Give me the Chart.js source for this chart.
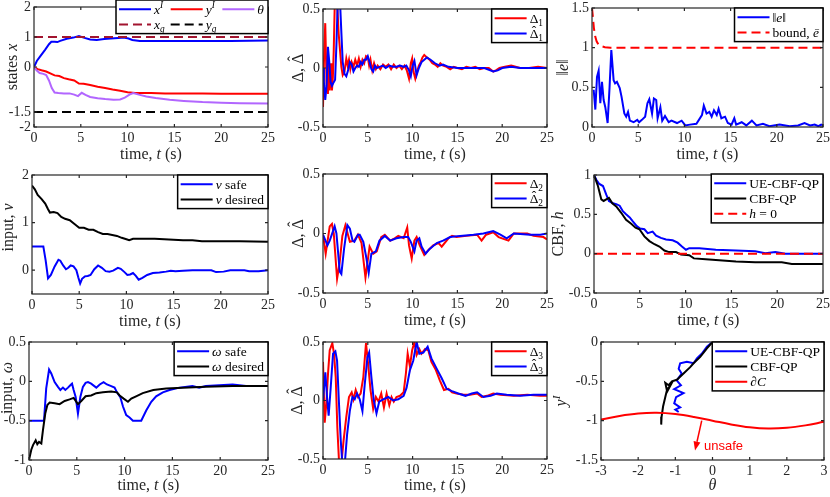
<!DOCTYPE html>
<html>
<head>
<meta charset="utf-8">
<script src="https://cdn.jsdelivr.net/npm/chart.js@4.4.1/dist/chart.umd.min.js"></script>
<style>
html, body { margin: 0; padding: 0; background: #fff; }
#wrap { position: relative; width: 830px; height: 497px; overflow: hidden; background: #fff; }
#wrap canvas { position: absolute; }
</style>
</head>
<body>
<div id="wrap"></div>
<script>
// ---- data ----
const timeTicks = [0, 5, 10, 15, 20, 25];
const thetaTicks = [-3, -2, -1, 0, 1, 2, 3];
const ticksStates = [-2, -1.5, 0, 1, 2];
const ticksDelta = [-0.5, 0, 0.5];
const ticksErr = [0, 0.5, 1, 1.5];
const ticksV = [0, 1, 2];
const ticksH = [-0.5, 0, 0.5, 1];
const ticksW = [-1, -0.5, 0, 0.5];
const ticksYI = [-1.5, -1, -0.5, 0];

// states
const tXI = [0, 0.3, 0.7, 1.2, 1.6, 1.85, 2.2, 2.5, 2.8, 3.5, 4.2, 4.8, 5.3, 6.0, 6.7, 7.5, 8.2, 9.0, 9.6, 10.1, 10.5, 11.3, 12.5, 15, 18, 21, 25];
const xI = [0, 0.2, 0.37, 0.58, 0.76, 0.84, 0.84, 0.83, 0.87, 0.94, 0.98, 1.03, 0.98, 0.92, 0.9, 0.93, 0.95, 0.97, 0.98, 0.95, 0.9, 0.87, 0.87, 0.87, 0.87, 0.87, 0.88];
const tYI = [0, 0.4, 0.8, 1.3, 1.8, 2.2, 2.7, 3.2, 3.7, 4.3, 4.8, 5.3, 6.0, 6.8, 7.6, 8.4, 9.2, 10.0, 10.8, 11.6, 12.5, 14, 16, 18, 20, 22, 25];
const yI = [0, -0.07, -0.11, -0.15, -0.22, -0.28, -0.3, -0.37, -0.41, -0.45, -0.55, -0.56, -0.6, -0.66, -0.7, -0.75, -0.79, -0.84, -0.87, -0.87, -0.87, -0.88, -0.88, -0.88, -0.89, -0.89, -0.89];
const tTh = [0, 0.3, 0.6, 1.0, 1.3, 1.6, 1.9, 2.2, 2.6, 3.2, 3.8, 4.3, 4.7, 5.1, 5.5, 6.0, 6.8, 7.6, 8.5, 9.2, 9.7, 10.2, 10.6, 11.2, 12, 13, 14.5, 16, 18, 20, 22, 25];
const theta = [0, -0.12, -0.2, -0.23, -0.27, -0.45, -0.7, -0.85, -0.87, -0.88, -0.88, -0.92, -0.97, -0.86, -0.93, -1.0, -1.04, -1.07, -1.09, -1.08, -1.02, -0.92, -0.87, -0.92, -0.98, -1.03, -1.09, -1.13, -1.17, -1.19, -1.21, -1.22];
const tGoal = [0, 25];
const xGoal = [1, 1];
const yGoal = [-1.5, -1.5];

// Delta 1
const tD1 = [0, 0.12, 0.25, 0.4, 0.55, 0.65, 0.75, 0.9, 1.0, 1.1, 1.2, 1.3, 1.45, 1.6, 1.75, 1.9, 2.05, 2.2, 2.4, 2.6, 2.75, 2.9, 3.05, 3.2, 3.4, 3.6, 3.8, 4.0, 4.2, 4.4, 4.6, 4.8, 5.0, 5.15, 5.3, 5.5, 5.7, 5.9, 6.1, 6.4, 6.7, 7.0, 7.3, 7.6, 7.9, 8.2, 8.5, 8.8, 9.1, 9.35, 9.6, 9.8, 9.95, 10.1, 10.3, 10.5, 10.7, 10.9, 11.1, 11.3, 11.6, 11.9, 12.2, 12.5, 12.8, 13.1, 13.4, 13.8, 14.2, 14.6, 15, 15.5, 16, 16.5, 17, 17.5, 18, 18.5, 19, 19.3, 19.7, 20.3, 21, 21.5, 22, 23, 24, 25];
const d1 = [-0.33, 0.1, 0.38, -0.13, -0.22, 0.07, -0.19, 0.04, -0.19, -0.08, 0.15, 0.5, 0.58, 0.52, 0.29, 0.15, 0.01, -0.06, -0.03, 0.08, 0.02, 0.07, -0.01, 0.05, 0.01, 0.07, 0.02, 0.08, 0.01, 0.07, 0.04, 0.1, 0.09, 0.02, 0.07, -0.02, 0.04, -0.01, 0.02, -0.01, 0.03, 0.01, 0.03, -0.01, 0.03, 0, 0.02, -0.01, 0.02, -0.02, -0.09, 0.04, 0.08, -0.03, -0.09, -0.03, 0.02, 0.05, 0.09, 0.11, 0.09, 0.07, 0.04, 0.03, 0.01, 0.04, 0.02, 0.01, -0.01, 0.01, 0, -0.01, 0.01, 0, 0.01, -0.01, 0, 0, -0.03, -0.02, 0, 0.01, 0.02, 0.01, 0, 0, 0.01, 0];
const tD1h = [0, 0.1, 0.25, 0.4, 0.55, 0.7, 0.85, 1.0, 1.2, 1.35, 1.5, 1.62, 1.75, 1.9, 2.05, 2.2, 2.4, 2.6, 2.8, 3.0, 3.2, 3.4, 3.6, 3.8, 4.0, 4.2, 4.4, 4.6, 4.8, 5.0, 5.2, 5.4, 5.6, 5.8, 6.0, 6.3, 6.7, 7.0, 7.4, 7.8, 8.2, 8.6, 9.0, 9.3, 9.6, 9.8, 10.0, 10.2, 10.45, 10.7, 11.0, 11.3, 11.6, 12.0, 12.5, 13, 13.4, 14, 15, 16, 17, 18, 19, 19.5, 20, 21, 22, 25];
const d1h = [0, -0.12, -0.27, -0.15, 0.18, 0.05, -0.12, -0.15, -0.12, -0.1, 0.2, 0.5, 0.6, 0.56, 0.3, 0.05, -0.05, -0.07, -0.02, 0.05, 0.03, -0.03, 0.0, 0.02, 0.01, 0.05, 0.03, 0.07, 0.07, 0.1, 0.05, -0.01, -0.03, 0.02, 0, 0.01, 0.02, 0, 0.02, 0.01, 0.01, 0.02, 0.01, 0.02, -0.02, -0.07, 0.02, 0.06, -0.06, 0, 0.05, 0.07, 0.09, 0.07, 0.04, 0.02, 0.03, 0.01, 0, 0, 0, 0, -0.03, -0.02, 0, 0.01, 0, 0];

// error norm and bound
const tErr = [0.18, 0.36, 0.54, 0.72, 0.9, 1.08, 1.26, 1.44, 1.69, 1.9, 2.09, 2.34, 2.5, 2.7, 3.0, 3.2, 3.5, 3.7, 3.9, 4.1, 4.5, 4.9, 5.1, 5.4, 5.75, 6.0, 6.2, 6.5, 6.7, 6.95, 7.1, 7.4, 7.6, 7.9, 8.3, 8.6, 9.2, 9.7, 10.1, 10.6, 11.3, 11.9, 12.1, 12.4, 12.7, 12.95, 13.2, 13.5, 13.7, 14.0, 14.4, 14.7, 15.1, 15.4, 15.6, 16.2, 16.7, 17.3, 17.8, 18.5, 19.2, 20.3, 21.4, 22.3, 23.0, 23.6, 24.1, 24.5, 24.8, 25];
const errNorm = [0.47, 0.22, 0.63, 0.71, 0.3, 0.57, 0.34, 0.25, 0.05, 0.5, 0.97, 0.59, 0.55, 0.57, 0.49, 0.38, 0.17, 0.13, 0.19, 0.08, 0.06, 0.09, 0.06, 0.09, 0.13, 0.3, 0.35, 0.17, 0.36, 0.34, 0.11, 0.25, 0.08, 0.14, 0.06, 0.08, 0.05, 0.08, 0.02, 0.03, 0.04, 0.15, 0.27, 0.17, 0.19, 0.13, 0.21, 0.15, 0.23, 0.11, 0.13, 0.05, 0.03, 0.11, 0.03, 0.06, 0.02, 0.08, 0.02, 0.04, 0.01, 0.03, 0.01, 0.02, 0.05, 0.02, 0.03, 0.01, 0.03, 0.02];
const tBound = [0, 0.1, 0.2, 0.35, 0.5, 0.7, 1.0, 1.4, 2, 25];
const bound = [1.5, 1.38, 1.25, 1.14, 1.08, 1.04, 1.02, 1.005, 1.0, 1.0];

// input v
const tVs = [0, 1.2, 1.45, 1.7, 2.0, 2.4, 2.8, 3.0, 3.3, 3.6, 3.85, 4.1, 4.4, 4.7, 4.9, 5.1, 5.3, 5.6, 5.9, 6.2, 6.6, 7.0, 7.4, 7.8, 8.2, 8.6, 9.1, 9.4, 9.8, 10.1, 10.4, 10.7, 11.0, 11.3, 11.7, 12.2, 12.8, 13.5, 14.2, 14.7, 15.2, 16, 17, 18, 19, 19.5, 20.3, 21, 22.5, 23, 24, 24.5, 25];
const vSafe = [0.5, 0.5, 0.2, -0.17, -0.1, 0.08, 0.22, 0.2, 0.1, 0.02, 0.05, 0.1, 0.08, 0.0, -0.15, -0.28, -0.18, -0.13, -0.12, -0.1, 0.02, 0.1, 0.05, -0.02, -0.03, -0.01, 0.05, 0.03, -0.04, -0.1, -0.09, -0.06, -0.12, -0.2, -0.16, -0.1, -0.06, -0.05, -0.03, -0.01, -0.02, -0.01, 0, 0, 0, -0.04, -0.03, 0, 0, -0.02, -0.02, -0.01, 0];
const tVd = [0, 0.3, 0.6, 1, 1.4, 1.7, 1.9, 2.3, 2.7, 3.1, 3.5, 4.0, 4.5, 5, 5.5, 6, 6.5, 7, 7.5, 8, 8.5, 9, 9.5, 10, 10.3, 10.7, 11.5, 13, 14, 15, 16, 17, 18, 20, 22, 25];
const vDes = [1.78, 1.7, 1.58, 1.5, 1.4, 1.28, 1.21, 1.22, 1.2, 1.12, 1.08, 1.05, 0.97, 0.89, 0.89, 0.85, 0.85, 0.8, 0.76, 0.76, 0.74, 0.72, 0.68, 0.65, 0.63, 0.66, 0.66, 0.66, 0.65, 0.64, 0.63, 0.63, 0.61, 0.61, 0.61, 0.6];

// Delta 2
const tD2 = [0, 0.3, 0.75, 1.0, 1.2, 1.57, 1.85, 2.16, 2.5, 3.0, 3.5, 3.9, 4.3, 4.74, 5.2, 5.6, 6.0, 6.5, 6.9, 7.5, 8.0, 8.4, 9.0, 9.4, 9.6, 9.9, 10.2, 10.45, 10.8, 11.3, 11.75, 12.3, 12.9, 13.25, 14, 14.4, 14.9, 16, 17.2, 17.7, 18.2, 19, 19.6, 20.7, 21.3, 22.8, 23.5, 24.6, 25];
const d2 = [-0.01, -0.17, 0.06, 0.08, 0.0, -0.38, -0.25, -0.02, 0.07, -0.07, -0.06, -0.01, -0.08, -0.37, -0.11, -0.17, -0.15, -0.03, -0.01, -0.06, -0.04, -0.02, -0.04, 0.05, -0.1, -0.21, -0.06, -0.03, -0.1, -0.18, -0.14, -0.1, -0.08, -0.11, -0.04, -0.02, -0.03, -0.02, -0.01, -0.06, -0.01, 0.01, -0.03, -0.06, 0, 0, -0.02, -0.03, -0.05];
const tD2h = [0, 0.5, 0.75, 1.3, 1.5, 1.87, 2.05, 2.35, 2.72, 3.0, 3.3, 3.5, 3.9, 4.1, 4.5, 4.85, 5.1, 5.4, 5.9, 6.3, 6.9, 7.5, 8.2, 9.0, 9.5, 9.8, 10.2, 10.45, 10.75, 11.0, 11.45, 11.9, 12.7, 13.4, 14.2, 15.3, 16.8, 17.9, 19, 19.8, 20.5, 21.3, 23.1, 24.25, 25];
const d2h = [-0.01, -0.1, -0.06, 0.06, 0.0, -0.32, -0.34, -0.13, 0.07, 0.04, -0.06, -0.07, -0.01, -0.01, -0.07, -0.21, -0.33, -0.17, -0.15, -0.06, -0.02, -0.06, -0.04, -0.03, -0.03, -0.07, -0.15, -0.06, -0.04, -0.11, -0.17, -0.13, -0.08, -0.06, -0.03, -0.02, -0.01, 0, 0.02, -0.01, -0.04, 0, -0.01, -0.01, 0];

// CBF h
const tHue = [0, 0.25, 0.54, 0.98, 1.34, 1.63, 2.07, 2.43, 2.8, 3.15, 3.5, 3.9, 4.24, 4.67, 5.04, 5.5, 5.87, 6.4, 6.78, 7.3, 7.86, 8.59, 9.13, 9.6, 10.04, 10.4, 11.5, 13.3, 15.5, 17.6, 18.7, 19.8, 20.9, 25];
const hUe = [1.0, 0.94, 0.89, 0.86, 0.75, 0.67, 0.64, 0.63, 0.61, 0.54, 0.5, 0.46, 0.41, 0.35, 0.32, 0.31, 0.26, 0.28, 0.23, 0.2, 0.18, 0.17, 0.14, 0.09, 0.05, 0.07, 0.07, 0.05, 0.04, 0.03, 0.005, 0.02, 0, 0];
const tHcbf = [0, 0.43, 0.8, 1.05, 1.34, 1.63, 2.0, 2.43, 2.97, 3.5, 4.06, 4.53, 4.96, 5.5, 6.05, 6.6, 7.14, 7.68, 8.2, 8.95, 9.5, 10.4, 10.9, 12.2, 13.3, 15.5, 17.6, 20.5, 21.6, 25];
const hCbf = [1.0, 0.86, 0.69, 0.67, 0.69, 0.71, 0.64, 0.6, 0.52, 0.43, 0.38, 0.33, 0.31, 0.22, 0.16, 0.12, 0.09, 0.04, 0.02, 0.02, -0.01, -0.02, -0.06, -0.07, -0.08, -0.1, -0.11, -0.11, -0.13, -0.13];
const hZero = [0, 0];

// input omega
const tWs = [0, 1.57, 1.8, 2.1, 2.33, 2.68, 3.03, 3.28, 3.55, 3.8, 4.08, 4.32, 4.5, 4.67, 4.88, 5.12, 5.37, 5.64, 5.92, 6.17, 6.5, 7.04, 7.4, 7.8, 8.15, 8.6, 8.95, 9.2, 9.55, 9.83, 10.17, 10.52, 10.87, 11.74, 12.26, 12.79, 13.3, 14.0, 14.7, 15.75, 17.1, 17.8, 18.5, 19.9, 21.3, 22.7, 25];
const wSafe = [-0.5, -0.5, -0.09, 0.15, 0.1, -0.01, -0.07, -0.11, -0.08, -0.11, -0.08, -0.05, -0.03, -0.11, -0.2, -0.41, -0.2, -0.07, -0.02, -0.01, -0.03, -0.08, -0.04, -0.01, -0.04, -0.06, -0.08, -0.14, -0.2, -0.32, -0.43, -0.46, -0.5, -0.5, -0.37, -0.26, -0.19, -0.14, -0.11, -0.08, -0.06, -0.08, -0.06, -0.05, -0.04, -0.06, -0.06];
const tWd = [0, 0.24, 0.42, 0.7, 0.87, 1.05, 1.29, 1.46, 1.7, 1.92, 2.16, 2.68, 3.2, 3.73, 4.25, 4.67, 5.12, 5.47, 5.92, 6.5, 7.04, 7.73, 8.6, 9.2, 9.48, 9.9, 10.35, 10.7, 11.2, 11.9, 13.0, 14.35, 16.1, 18.5, 21.3, 25];
const wDes = [-1.0, -0.87, -0.81, -0.75, -0.8, -0.77, -0.79, -0.62, -0.41, -0.3, -0.27, -0.28, -0.29, -0.25, -0.23, -0.21, -0.29, -0.25, -0.19, -0.18, -0.15, -0.14, -0.13, -0.14, -0.18, -0.22, -0.26, -0.22, -0.19, -0.15, -0.11, -0.09, -0.08, -0.07, -0.06, -0.06];

// Delta 3
const tD3 = [0, 0.19, 0.37, 0.56, 0.75, 1.04, 1.23, 1.42, 1.6, 1.8, 2.05, 2.3, 2.6, 2.9, 3.2, 3.4, 3.65, 3.9, 4.2, 4.5, 4.8, 5.0, 5.3, 5.6, 5.9, 6.2, 6.5, 6.8, 7.1, 7.4, 7.65, 7.9, 8.2, 8.6, 9.0, 9.25, 9.45, 9.7, 9.95, 10.2, 10.45, 10.75, 11.0, 11.4, 11.75, 12.1, 12.6, 13.05, 13.5, 14.0, 14.4, 14.9, 15.7, 16.4, 17.2, 17.7, 18.3, 19.0, 19.8, 21.3, 22.8, 24.25, 25];
const d3 = [0.33, -0.19, -0.03, 0.23, 0.43, 0.49, 0.4, 0.2, -0.23, -0.54, -0.54, -0.34, -0.14, 0.03, 0.07, 0.01, 0.09, 0.03, 0.06, 0.2, 0.49, 0.34, 0.09, -0.07, 0.03, -0.01, 0.06, -0.06, 0.06, -0.04, 0.03, -0.01, 0.03, 0.04, 0.07, 0.23, 0.4, 0.29, 0.43, 0.5, 0.39, 0.44, 0.4, 0.44, 0.43, 0.33, 0.26, 0.17, 0.09, 0.1, 0.07, 0.06, 0.05, 0.05, 0.06, 0.03, 0.04, 0.06, 0.05, 0.04, 0.05, 0.04, 0.04];
const tD3h = [0, 0.26, 0.45, 0.63, 0.86, 1.12, 1.38, 1.57, 1.75, 1.98, 2.16, 2.43, 2.69, 2.99, 3.28, 3.54, 3.8, 4.1, 4.4, 4.66, 4.96, 5.15, 5.4, 5.67, 5.97, 6.27, 6.72, 7.28, 7.84, 8.4, 9.0, 9.33, 9.7, 10.07, 10.45, 10.75, 11.2, 11.68, 12.1, 12.7, 13.25, 13.8, 14.4, 15.1, 15.9, 16.6, 17.2, 17.9, 18.7, 19.4, 20.5, 22.0, 23.5, 25];
const d3h = [0, 0.24, 0.03, -0.13, 0.11, 0.4, 0.42, 0.34, 0.03, -0.34, -0.54, -0.54, -0.29, -0.09, 0.03, 0.01, 0.06, 0.01, -0.09, 0.14, 0.37, 0.41, 0.2, 0, -0.11, -0.01, 0.01, 0.03, 0, 0.01, 0.04, 0.11, 0.26, 0.34, 0.5, 0.4, 0.41, 0.46, 0.36, 0.27, 0.19, 0.1, 0.08, 0.06, 0.04, 0.06, 0.07, 0.03, 0.04, 0.06, 0.05, 0.04, 0.05, 0.05];

// phase plot (theta, y^I)
const thUe = [0, -0.15, -0.29, -0.42, -0.51, -0.69, -0.87, -0.91, -0.83, -0.96, -0.85, -1.03, -0.78, -0.98, -1.03, -0.87, -1.0, -0.91];
const yUe = [0, -0.06, -0.15, -0.21, -0.27, -0.25, -0.27, -0.34, -0.4, -0.49, -0.55, -0.6, -0.65, -0.7, -0.78, -0.83, -0.86, -0.89];
const thCbf = [0, -0.15, -0.33, -0.51, -0.6, -0.78, -0.96, -1.09, -1.18, -1.27, -1.22, -1.14, -1.22, -1.27, -1.33, -1.37, -1.38];
const yCbf = [0, -0.08, -0.19, -0.27, -0.32, -0.4, -0.48, -0.5, -0.55, -0.52, -0.63, -0.56, -0.6, -0.7, -0.82, -0.95, -1.05];
const thEdge = [-3, -2.5, -2, -1.5, -1, -0.5, 0, 0.5, 1, 1.5, 2, 2.5, 3];
const yEdge = [-0.986, -0.94, -0.909, -0.9, -0.916, -0.952, -1.0, -1.048, -1.084, -1.1, -1.091, -1.06, -1.014];
const arrowFrom = [-0.29, -1.0];
const arrowTo = [-0.47, -1.38];
const unsafeAt = [-0.23, -1.33];

// ---- styling ----
const SERIF = '"Liberation Serif", "DejaVu Serif", serif';
const AXIS = '#262626';
const BLUE = '#0000ff', RED = '#ff0000', BLACK = '#000000', PURPLE = '#b266ff', DARKRED = '#a2142f';
const DASH = [9, 5];
const PADL = 60, PADT = 12, PADR = 14, XH = 40;

const pts = (ts, vs) => ts.map((t, i) => ({x: t, y: vs[i]}));

const panels = [
    {area: [34, 7, 268, 127], x: [0, 25], xt: timeTicks, y: [-2, 2], yt: ticksStates,
     xlab: 'time, $t$ (s)', ylab: 'states $x$', yOff: 22, xBase: 32,
     series: [[tXI, xI, BLUE], [tYI, yI, RED], [tTh, theta, PURPLE], [tGoal, xGoal, DARKRED, DASH], [tGoal, yGoal, BLACK, DASH]],
     legend: {cols: 3, dy: -7, labels: ['$x^I$', '$y^I$', '$θ$', '$x_g$', '$y_g$']}},
    {area: [323, 9, 547, 127], x: [0, 25], xt: timeTicks, y: [-0.5, 0.5], yt: ticksDelta,
     xlab: 'time, $t$ (s)', ylab: '$Δ$, $\\hat{Δ}$', yOff: 25, xBase: 32,
     series: [[tD1, d1, RED], [tD1h, d1h, BLUE]],
     legend: {labels: ['$Δ_1$', '$\\hat{Δ}_1$']}},
    {area: [592, 8, 823, 127], x: [0, 25], xt: timeTicks, y: [0, 1.5], yt: ticksErr,
     xlab: 'time, $t$ (s)', ylab: '$\u2016e\u2016$', yOff: 29, xBase: 32,
     series: [[tErr, errNorm, BLUE], [tBound, bound, RED, DASH]],
     legend: {labels: ['$\u2016e\u2016$', 'bound, $ē$']}},
    {area: [32, 175, 268, 294], x: [0, 25], xt: timeTicks, y: [-0.5, 2], yt: ticksV,
     xlab: 'time, $t$ (s)', ylab: 'input, $v$', yOff: 24, yShift: -7, xBase: 32,
     series: [[tVs, vSafe, BLUE], [tVd, vDes, BLACK]],
     legend: {labels: ['$v$ safe', '$v$ desired']}},
    {area: [323, 174, 547, 293], x: [0, 25], xt: timeTicks, y: [-0.5, 0.5], yt: ticksDelta,
     xlab: 'time, $t$ (s)', ylab: '$Δ$, $\\hat{Δ}$', yOff: 25, xBase: 32,
     series: [[tD2, d2, RED], [tD2h, d2h, BLUE]],
     legend: {labels: ['$Δ_2$', '$\\hat{Δ}_2$']}},
    {area: [594, 175, 823, 293], x: [0, 25], xt: timeTicks, y: [-0.5, 1], yt: ticksH,
     xlab: 'time, $t$ (s)', ylab: 'CBF, $h$', yOff: 36, xBase: 32,
     series: [[tHue, hUe, BLUE], [tHcbf, hCbf, BLACK], [tGoal, hZero, RED, DASH]],
     legend: {dy: -1, labels: ['UE-CBF-QP', 'CBF-QP', '$h$ = 0']}},
    {area: [29, 342, 268, 460], x: [0, 25], xt: timeTicks, y: [-1, 0.5], yt: ticksW,
     xlab: 'time, $t$ (s)', ylab: 'input, $ω$', yOff: 22, yShift: -13, xBase: 30,
     series: [[tWs, wSafe, BLUE], [tWd, wDes, BLACK]],
     legend: {labels: ['$ω$ safe', '$ω$ desired']}},
    {area: [323, 342, 547, 459], x: [0, 25], xt: timeTicks, y: [-0.5, 0.5], yt: ticksDelta,
     xlab: 'time, $t$ (s)', ylab: '$Δ$, $\\hat{Δ}$', yOff: 26, xBase: 31,
     series: [[tD3, d3, RED], [tD3h, d3h, BLUE]],
     legend: {labels: ['$Δ_3$', '$\\hat{Δ}_3$']}},
    {area: [601, 342, 824, 460], x: [-3, 3], xt: thetaTicks, y: [-1.5, 0], yt: ticksYI,
     xlab: '$θ$', ylab: '$y^I$', yOff: 40, xBase: 30,
     series: [[thUe, yUe, BLUE], [thCbf, yCbf, BLACK], [thEdge, yEdge, RED, null, 0.4]],
     legend: {labels: ['UE-CBF-QP', 'CBF-QP', '$∂C$']},
     note: true}
];

// ---- small TeX-ish text helper ----
function parseTex(s) {
    const out = [];
    let math = false, i = 0;
    const isLetter = c => /[A-Za-zα-ωē]/.test(c);
    const group = j => {
        if (s[j] === '{') { const k = s.indexOf('}', j); return [s.slice(j + 1, k), k + 1]; }
        return [s[j], j + 1];
    };
    const push = seg => {
        const last = out[out.length - 1];
        if (last && !seg.hat && !last.hat && last.it === seg.it && last.sup === seg.sup && last.sub === seg.sub) last.t += seg.t;
        else out.push(seg);
    };
    while (i < s.length) {
        const ch = s[i];
        if (ch === '$') { math = !math; i++; continue; }
        if (ch === '^' || ch === '_') {
            const [g, n] = group(i + 1);
            push({t: g, it: isLetter(g), sup: ch === '^', sub: ch === '_'});
            i = n; continue;
        }
        if (s.startsWith('\\hat', i)) {
            const [g, n] = group(i + 4);
            push({t: g, it: /[a-zα-ω]/.test(g), hat: true, sup: false, sub: false});
            i = n; continue;
        }
        push({t: ch, it: math && isLetter(ch), sup: false, sub: false});
        i++;
    }
    return out;
}

function segFont(sg, size) {
    const sz = (sg.sup || sg.sub) ? size * 0.7 : size;
    return (sg.it ? 'italic ' : '') + sz.toFixed(1) + 'px ' + SERIF;
}

function texWidth(ctx, segs, size) {
    let w = 0;
    segs.forEach(sg => { ctx.font = segFont(sg, size); w += ctx.measureText(sg.t).width; });
    return w;
}

function drawTex(ctx, segs, x, y, size, color) {
    ctx.fillStyle = color;
    ctx.textBaseline = 'alphabetic';
    segs.forEach(sg => {
        ctx.font = segFont(sg, size);
        ctx.textAlign = 'left';
        const dy = sg.sup ? -0.4 * size : sg.sub ? 0.22 * size : 0;
        ctx.fillText(sg.t, x, y + dy);
        const w = ctx.measureText(sg.t).width;
        if (sg.hat) {
            ctx.font = size + 'px ' + SERIF;
            ctx.textAlign = 'center';
            ctx.fillText('\u02C6', x + w / 2, y - 0.24 * size);
        }
        x += w;
    });
}

function drawLegend(ctx, a, p) {
    const lg = p.legend, size = 13.5, rowH = 15.3, sample = 32;
    const cols = lg.cols || 1;
    const items = lg.labels.map((lab, i) => ({segs: parseTex(lab), s: p.series[i]}));
    const rows = Math.ceil(items.length / cols);
    const colW = [];
    for (let c = 0; c < cols; c++) {
        let m = 0;
        for (let r = 0; r < rows; r++) {
            const it = items[r * cols + c];
            if (it) m = Math.max(m, texWidth(ctx, it.segs, size));
        }
        colW.push(sample + 3 + m);
    }
    const W = 3 + colW.reduce((s, v) => s + v, 0) + 6 * (cols - 1) + 4;
    const H = rows * rowH + 3;
    const x0 = a.right - W, y0 = a.top + (lg.dy || 0);
    ctx.fillStyle = '#fff';
    ctx.fillRect(x0, y0, W, H);
    ctx.strokeStyle = '#000';
    ctx.lineWidth = 1.5;
    ctx.setLineDash([]);
    ctx.strokeRect(x0, y0, W, H);
    items.forEach((it, i) => {
        const c = i % cols, r = Math.floor(i / cols);
        let cx = x0 + 3;
        for (let k = 0; k < c; k++) cx += colW[k] + 6;
        const cy = y0 + 1.5 + rowH * (r + 0.5);
        ctx.strokeStyle = it.s[2];
        ctx.lineWidth = 2;
        ctx.setLineDash(it.s[3] || []);
        ctx.beginPath();
        ctx.moveTo(cx, cy);
        ctx.lineTo(cx + sample, cy);
        ctx.stroke();
        ctx.setLineDash([]);
        drawTex(ctx, it.segs, cx + sample + 3, cy + 4.7, size, '#000');
    });
}

function drawNote(ctx, xs, ys) {
    const x0 = xs.getPixelForValue(arrowFrom[0]), y0 = ys.getPixelForValue(arrowFrom[1]);
    const x1 = xs.getPixelForValue(arrowTo[0]), y1 = ys.getPixelForValue(arrowTo[1]);
    const ang = Math.atan2(y1 - y0, x1 - x0), L = 9, hw = 3.5;
    ctx.strokeStyle = RED;
    ctx.fillStyle = RED;
    ctx.lineWidth = 1.5;
    ctx.beginPath();
    ctx.moveTo(x0, y0);
    ctx.lineTo(x1 - L * Math.cos(ang), y1 - L * Math.sin(ang));
    ctx.stroke();
    ctx.beginPath();
    ctx.moveTo(x1, y1);
    ctx.lineTo(x1 - L * Math.cos(ang) + hw * Math.sin(ang), y1 - L * Math.sin(ang) - hw * Math.cos(ang));
    ctx.lineTo(x1 - L * Math.cos(ang) - hw * Math.sin(ang), y1 - L * Math.sin(ang) + hw * Math.cos(ang));
    ctx.closePath();
    ctx.fill();
    ctx.font = '13px "Liberation Sans", Arial, sans-serif';
    ctx.textAlign = 'left';
    ctx.textBaseline = 'middle';
    ctx.fillText('unsafe', xs.getPixelForValue(unsafeAt[0]), ys.getPixelForValue(unsafeAt[1]));
}

function framePlugin(p) {
    return {
        id: 'frame',
        afterDatasetsDraw(chart) {
            const ctx = chart.ctx, a = chart.chartArea;
            const xs = chart.scales.x, ys = chart.scales.y;
            ctx.save();
            ctx.strokeStyle = AXIS;
            ctx.lineWidth = 1.2;
            ctx.setLineDash([]);
            ctx.strokeRect(a.left, a.top, a.right - a.left, a.bottom - a.top);
            ctx.beginPath();
            xs.ticks.forEach(tk => {
                const px = xs.getPixelForValue(tk.value);
                ctx.moveTo(px, a.bottom); ctx.lineTo(px, a.bottom - 3);
                ctx.moveTo(px, a.top); ctx.lineTo(px, a.top + 3);
            });
            ys.ticks.forEach(tk => {
                const py = ys.getPixelForValue(tk.value);
                ctx.moveTo(a.left, py); ctx.lineTo(a.left + 3, py);
                ctx.moveTo(a.right, py); ctx.lineTo(a.right - 3, py);
            });
            ctx.stroke();

            if (p.note) drawNote(ctx, xs, ys);

            // axis titles
            const size = 16;
            const xl = parseTex(p.xlab);
            const xw = texWidth(ctx, xl, size);
            drawTex(ctx, xl, (a.left + a.right) / 2 - xw / 2, a.bottom + p.xBase, size, AXIS);
            const yl = parseTex(p.ylab);
            const yw = texWidth(ctx, yl, size);
            ctx.save();
            ctx.translate(a.left - p.yOff, (a.top + a.bottom) / 2 + (p.yShift || 0));
            ctx.rotate(-Math.PI / 2);
            drawTex(ctx, yl, -yw / 2, 0.33 * size, size, AXIS);
            ctx.restore();

            drawLegend(ctx, a, p);
            ctx.restore();
        }
    };
}

function makeChart(p) {
    const [l, t, r, b] = p.area;
    const cv = document.createElement('canvas');
    const W = r - l + PADL + PADR, H = b - t + PADT + XH;
    cv.width = W;
    cv.height = H;
    cv.style.left = (l - PADL) + 'px';
    cv.style.top = (t - PADT) + 'px';
    cv.style.width = W + 'px';
    cv.style.height = H + 'px';
    document.getElementById('wrap').appendChild(cv);

    const n = p.series.length;
    const datasets = p.series.map((s, i) => ({
        data: pts(s[0], s[1]),
        borderColor: s[2],
        borderWidth: 2,
        borderDash: s[3] || [],
        tension: s[4] || 0,
        pointRadius: 0,
        fill: false,
        clip: 0,
        order: n - i
    }));

    const tickFont = {family: SERIF, size: 14};
    new Chart(cv, {
        type: 'line',
        data: {datasets: datasets},
        options: {
            responsive: false,
            animation: false,
            events: [],
            layout: {autoPadding: false, padding: {left: 0, top: PADT, right: PADR, bottom: 0}},
            plugins: {legend: {display: false}, tooltip: {enabled: false}},
            scales: {
                x: {
                    type: 'linear', min: p.x[0], max: p.x[1],
                    afterBuildTicks: s => { s.ticks = p.xt.map(v => ({value: v})); },
                    afterFit: s => { s.height = XH; },
                    grid: {display: false, drawTicks: false},
                    border: {display: false},
                    ticks: {font: tickFont, color: AXIS, padding: 3, maxRotation: 0, autoSkip: false, callback: v => String(v)}
                },
                y: {
                    type: 'linear', min: p.y[0], max: p.y[1],
                    afterBuildTicks: s => { s.ticks = p.yt.map(v => ({value: v})); },
                    afterFit: s => { s.width = PADL; },
                    grid: {display: false, drawTicks: false},
                    border: {display: false},
                    ticks: {font: tickFont, color: AXIS, padding: 3, autoSkip: false, callback: v => String(v)}
                }
            }
        },
        plugins: [framePlugin(p)]
    });
}

panels.forEach(makeChart);
</script>
</body>
</html>
